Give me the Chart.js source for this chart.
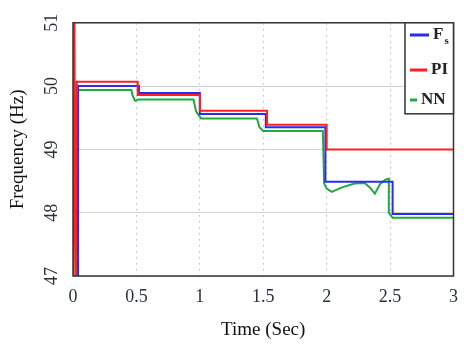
<!DOCTYPE html>
<html>
<head>
<meta charset="utf-8">
<script src="https://cdn.jsdelivr.net/npm/chart.js@4/dist/chart.umd.min.js"></script>
<style>
  html, body { margin: 0; padding: 0; background: #fff; }
  #wrap { width: 468px; height: 349px; }
</style>
</head>
<body>
<div id="wrap"><canvas id="myChart" width="468" height="349"></canvas></div>
<script>
// 축 범위와 눈금
const xTicks = [0, 0.5, 1, 1.5, 2, 2.5, 3];
const yTicks = [47, 48, 49, 50, 51];

// F_s (파란색) - 시간, 주파수
const fsTime = [0.04, 0.04, 0.52, 0.52, 1.0, 1.0, 1.52, 1.52, 1.99, 1.99, 2.52, 2.52, 3.0];
const fsFreq = [46.5, 50.0, 50.0, 49.89, 49.89, 49.56, 49.56, 49.35, 49.35, 48.49, 48.49, 47.98, 47.98];

// PI (빨간색)
const piTime = [0.0, 0.01, 0.02, 0.03, 0.51, 0.51, 1.0, 1.0, 1.53, 1.53, 2.0, 2.0, 3.0];
const piFreq = [46.5, 51.5, 46.5, 50.07, 50.07, 49.86, 49.86, 49.61, 49.61, 49.39, 49.39, 49.0, 49.0];

// NN (초록색)
const nnTime = [0.03, 0.035, 0.46, 0.47, 0.49, 0.52, 0.95, 0.97, 1.01, 1.45, 1.47, 1.5, 1.97, 1.98, 2.0, 2.04, 2.12, 2.22, 2.3, 2.34, 2.38, 2.42, 2.46, 2.49, 2.49, 2.52, 3.0];
const nnFreq = [46.5, 49.94, 49.94, 49.85, 49.77, 49.79, 49.79, 49.6, 49.49, 49.49, 49.35, 49.29, 49.29, 48.46, 48.38, 48.33, 48.4, 48.46, 48.47, 48.4, 48.3, 48.45, 48.52, 48.54, 48.0, 47.92, 47.92];

const toPoints = (t, f) => t.map((x, i) => ({ x, y: f[i] }));

const serif = 'Liberation Serif';

// 외곽 테두리와 범례를 그리는 플러그인
const framePlugin = {
    id: 'frame',
    afterDatasetsDraw(chart) {
        const { ctx, chartArea: a } = chart;
        ctx.save();
        ctx.strokeStyle = '#333';
        ctx.lineWidth = 1.5;
        ctx.strokeRect(a.left, a.top, a.right - a.left, a.bottom - a.top);

        // 범례 상자
        const bx = 405, by = a.top, bw = a.right - 405, bh = 91;
        ctx.fillStyle = '#fff';
        ctx.fillRect(bx, by, bw, bh);
        ctx.strokeRect(bx, by, bw, bh);

        const items = [
            { text: 'F', sub: 's', color: '#2b2bf0', y: 35, x0: 410, x1: 429 },
            { text: 'PI', color: '#ff2020', y: 70, x0: 410, x1: 427 },
            { text: 'NN', color: '#1faa3c', y: 100, x0: 410, x1: 417 }
        ];
        ctx.textBaseline = 'middle';
        items.forEach(it => {
            ctx.strokeStyle = it.color;
            ctx.lineWidth = 3;
            ctx.beginPath();
            ctx.moveTo(it.x0, it.y);
            ctx.lineTo(it.x1, it.y);
            ctx.stroke();
            ctx.fillStyle = '#222';
            ctx.font = 'bold 17px "' + serif + '"';
            ctx.textAlign = 'left';
            ctx.fillText(it.text, it.x1 + 4, it.y);
            if (it.sub) {
                const w = ctx.measureText(it.text).width;
                ctx.font = 'bold 11px "' + serif + '"';
                ctx.fillText(it.sub, it.x1 + 5 + w, it.y + 6);
            }
        });
        ctx.restore();
    }
};

const ctx = document.querySelector('#myChart').getContext('2d');
const chart = new Chart(ctx, {
    type: 'line',
    data: {
        datasets: [
            { label: 'PI', data: toPoints(piTime, piFreq), borderColor: '#ff2020', borderWidth: 2, order: 1 },
            { label: 'F_s', data: toPoints(fsTime, fsFreq), borderColor: '#2b2bf0', borderWidth: 2, order: 2 },
            { label: 'NN', data: toPoints(nnTime, nnFreq), borderColor: '#1faa3c', borderWidth: 2, order: 3 }
        ]
    },
    options: {
        responsive: false,
        animation: false,
        layout: { padding: { top: 21, right: 11, left: 0, bottom: 0 } },
        elements: { point: { radius: 0 }, line: { tension: 0 } },
        scales: {
            x: {
                type: 'linear',
                min: 0,
                max: 3,
                afterBuildTicks: s => { s.ticks = xTicks.map(v => ({ value: v })); },
                afterFit: s => { s.height = 73; },
                grid: { color: '#c8c8c8', drawTicks: false },
                border: { display: false, dash: [2, 4] },
                ticks: {
                    padding: 10,
                    color: '#2a2f3a',
                    font: { family: serif, size: 18 },
                    maxRotation: 0,
                    callback: v => String(v)
                },
                title: {
                    display: true,
                    text: 'Time (Sec)',
                    color: '#111',
                    font: { family: serif, size: 19 },
                    padding: { top: 0, bottom: 8 }
                }
            },
            y: {
                min: 47,
                max: 51,
                afterBuildTicks: s => { s.ticks = yTicks.map(v => ({ value: v })); },
                afterFit: s => { s.width = 73; },
                grid: { color: '#d4d4d4', drawTicks: false },
                border: { display: false },
                ticks: {
                    padding: 12,
                    minRotation: 90,
                    maxRotation: 90,
                    crossAlign: 'center',
                    color: '#2a2f3a',
                    font: { family: serif, size: 18 }
                },
                title: {
                    display: true,
                    text: 'Frequency (Hz)',
                    color: '#111',
                    font: { family: serif, size: 19 },
                    padding: { top: 7, bottom: 0 }
                }
            }
        },
        plugins: {
            legend: { display: false },
            tooltip: { enabled: false }
        }
    },
    plugins: [framePlugin]
});
</script>
</body>
</html>
